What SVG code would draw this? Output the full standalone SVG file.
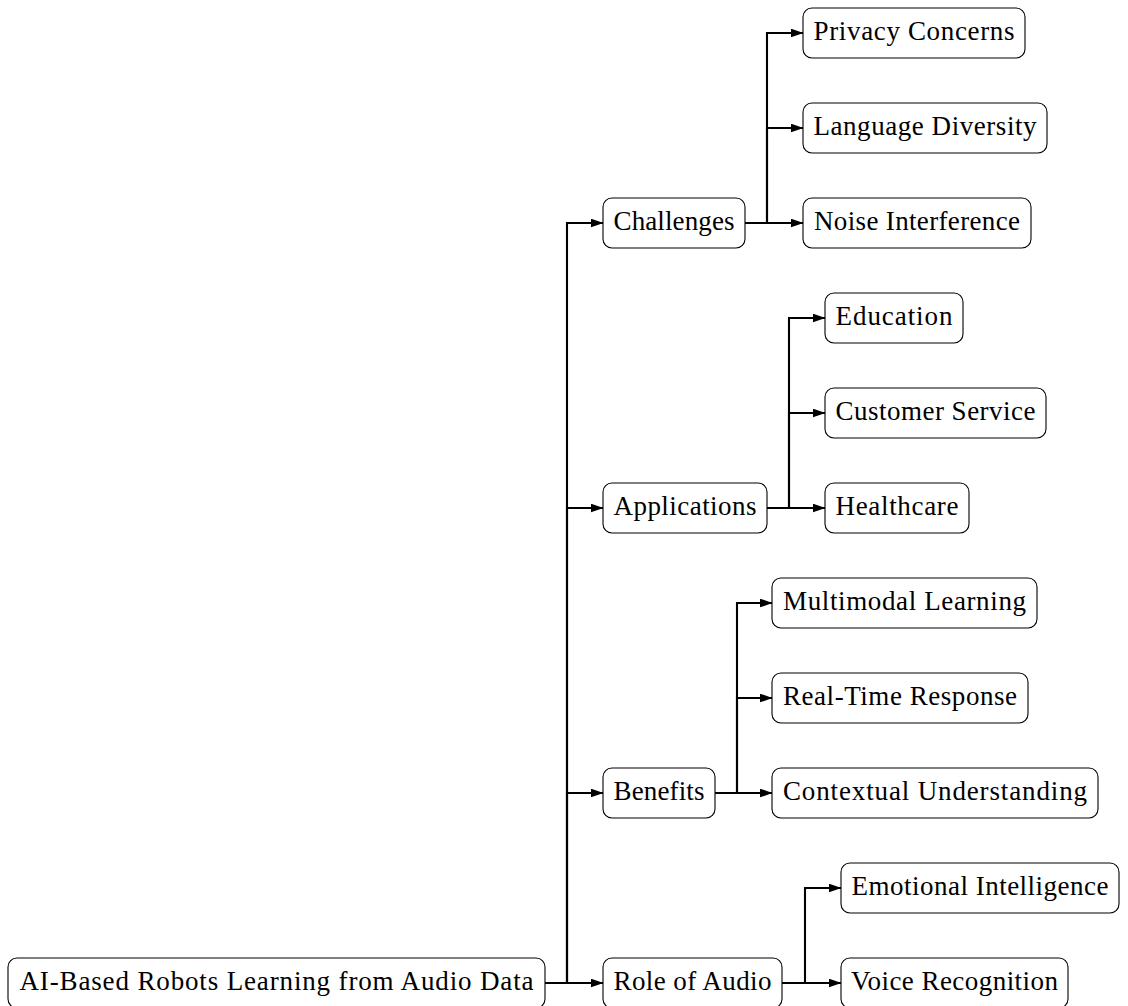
<svg xmlns="http://www.w3.org/2000/svg" width="1128" height="1006" viewBox="0 0 1128 1006">
<style>
.box{fill:#fff;stroke:#000;stroke-width:1.1}
.lbl{font-family:"Liberation Serif","Times New Roman",serif;font-size:27px;fill:#000;text-anchor:middle}
.conn{fill:none;stroke:#000;stroke-width:2.1;stroke-linejoin:miter}
</style>
<defs>
<marker id="ah" markerUnits="userSpaceOnUse" markerWidth="14" markerHeight="10" refX="12.5" refY="4.5" orient="auto">
<path d="M0,0 L13,4.5 L0,9 z" fill="#000"/>
</marker>
</defs>
<rect width="1128" height="1006" fill="#fff"/>
<g id="connectors">
<path class="conn" marker-end="url(#ah)" d="M545,983 H567 V223 H603"/>
<path class="conn" marker-end="url(#ah)" d="M545,983 H567 V508 H603"/>
<path class="conn" marker-end="url(#ah)" d="M545,983 H567 V793 H603"/>
<path class="conn" marker-end="url(#ah)" d="M545,983 H603"/>
<path class="conn" marker-end="url(#ah)" d="M745,223 H767 V33 H803"/>
<path class="conn" marker-end="url(#ah)" d="M745,223 H767 V128 H803"/>
<path class="conn" marker-end="url(#ah)" d="M745,223 H803"/>
<path class="conn" marker-end="url(#ah)" d="M767,508 H789 V318 H825"/>
<path class="conn" marker-end="url(#ah)" d="M767,508 H789 V413 H825"/>
<path class="conn" marker-end="url(#ah)" d="M767,508 H825"/>
<path class="conn" marker-end="url(#ah)" d="M715,793 H737 V603 H772"/>
<path class="conn" marker-end="url(#ah)" d="M715,793 H737 V698 H772"/>
<path class="conn" marker-end="url(#ah)" d="M715,793 H772"/>
<path class="conn" marker-end="url(#ah)" d="M782,983 H805 V888 H841"/>
<path class="conn" marker-end="url(#ah)" d="M782,983 H841"/>
</g>
<g id="root">
<rect class="box" x="8" y="958" width="537" height="50" rx="9"/>
<text class="lbl" x="276.5" y="990" textLength="514" lengthAdjust="spacing">AI-Based Robots Learning from Audio Data</text>
</g>
<g id="challenges">
<rect class="box" x="603" y="198" width="142" height="50" rx="9"/>
<text class="lbl" x="674" y="230" textLength="121" lengthAdjust="spacing">Challenges</text>
</g>
<g id="applications">
<rect class="box" x="603" y="483" width="164" height="50" rx="9"/>
<text class="lbl" x="685" y="515" textLength="143" lengthAdjust="spacing">Applications</text>
</g>
<g id="benefits">
<rect class="box" x="603" y="768" width="112" height="50" rx="9"/>
<text class="lbl" x="659" y="800" textLength="91" lengthAdjust="spacing">Benefits</text>
</g>
<g id="role-of-audio">
<rect class="box" x="603" y="958" width="179" height="50" rx="9"/>
<text class="lbl" x="692.5" y="990" textLength="158" lengthAdjust="spacing">Role of Audio</text>
</g>
<g id="privacy-concerns">
<rect class="box" x="803" y="8" width="222" height="50" rx="9"/>
<text class="lbl" x="914" y="40" textLength="201" lengthAdjust="spacing">Privacy Concerns</text>
</g>
<g id="language-diversity">
<rect class="box" x="803" y="103" width="244" height="50" rx="9"/>
<text class="lbl" x="925" y="135" textLength="223" lengthAdjust="spacing">Language Diversity</text>
</g>
<g id="noise-interference">
<rect class="box" x="803" y="198" width="228" height="50" rx="9"/>
<text class="lbl" x="917" y="230" textLength="206" lengthAdjust="spacing">Noise Interference</text>
</g>
<g id="education">
<rect class="box" x="825" y="293" width="138" height="50" rx="9"/>
<text class="lbl" x="894" y="325" textLength="117" lengthAdjust="spacing">Education</text>
</g>
<g id="customer-service">
<rect class="box" x="825" y="388" width="221" height="50" rx="9"/>
<text class="lbl" x="935.5" y="420" textLength="200" lengthAdjust="spacing">Customer Service</text>
</g>
<g id="healthcare">
<rect class="box" x="825" y="483" width="144" height="50" rx="9"/>
<text class="lbl" x="897" y="515" textLength="123" lengthAdjust="spacing">Healthcare</text>
</g>
<g id="multimodal-learning">
<rect class="box" x="772" y="578" width="265" height="50" rx="9"/>
<text class="lbl" x="904.5" y="610" textLength="243" lengthAdjust="spacing">Multimodal Learning</text>
</g>
<g id="real-time-response">
<rect class="box" x="772" y="673" width="256" height="50" rx="9"/>
<text class="lbl" x="900" y="705" textLength="234" lengthAdjust="spacing">Real-Time Response</text>
</g>
<g id="contextual-understanding">
<rect class="box" x="772" y="768" width="326" height="50" rx="9"/>
<text class="lbl" x="935" y="800" textLength="304" lengthAdjust="spacing">Contextual Understanding</text>
</g>
<g id="emotional-intelligence">
<rect class="box" x="841" y="863" width="278" height="50" rx="9"/>
<text class="lbl" x="980" y="895" textLength="257" lengthAdjust="spacing">Emotional Intelligence</text>
</g>
<g id="voice-recognition">
<rect class="box" x="841" y="958" width="227" height="50" rx="9"/>
<text class="lbl" x="954.5" y="990" textLength="207" lengthAdjust="spacing">Voice Recognition</text>
</g>
</svg>
